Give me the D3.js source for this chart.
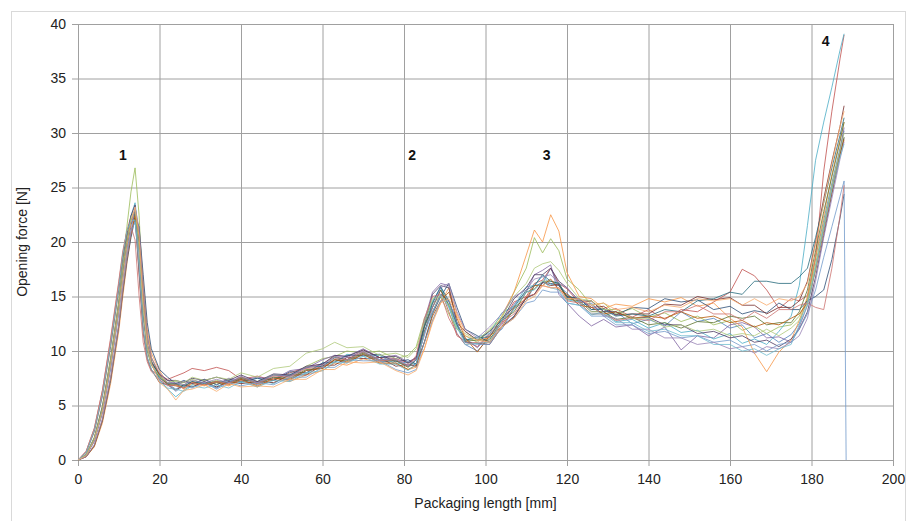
<!DOCTYPE html>
<html>
<head>
<meta charset="utf-8">
<script src="https://cdn.jsdelivr.net/npm/d3@7"></script>
<style>
  body { margin: 0; background: #fff; }
  text { font-family: "Liberation Sans", Arial, sans-serif; }
</style>
</head>
<body>
<svg id="chart" width="908" height="521"></svg>
<script>
// packaging length grid [mm]
var xs = [0, 2, 4, 6, 8, 10,
  11, 12, 13, 14, 15, 16, 17, 18,
  20, 22, 24, 26, 28,
  31, 34, 37, 40, 44, 48, 52, 56, 60,
  63, 66, 70, 74, 78,
  81, 83, 85, 87, 89, 91, 93, 95,
  98, 101, 104, 107, 110, 112, 114, 116, 118, 120,
  123, 126, 129, 132, 136, 140, 144, 148, 152, 156, 160,
  163, 166, 169, 172, 175,
  177, 179, 181, 183, 185, 187, 188, 188.5];

// opening force [N], one array per sample
var s1 = [0,0.4,1.8,4.6,8.8,14.0, 17.0,19.8,21.6,22.4,19.0,13.4,10.2,8.8, 7.5,7.0,6.5,6.9,6.7,
  7.1,6.6,7.2,7.4,6.9,7.6,7.3,8.2,8.5, 9.2,8.9,9.7,9.0,9.1, 8.6,8.8,11.6,14.4,15.9,14.2,11.6,10.6,
  10.0,11.2,12.0,13.9,14.6,16.0,16.2,17.6,16.0,15.3, 14.2,14.4,13.2,13.6,12.5,12.9,12.3,13.6,12.7,13.0,12.1,
  12.4,11.2,11.6,10.8,11.5, 12.5,14.8,18.6,22.0,25.4,28.6,30.2,null];
var s2 = [0,0.8,2.9,6.4,11.0,16.2, 19.0,21.0,22.4,22.8,17.0,11.6,9.2,8.2, 7.8,7.4,7.7,8.0,8.4,
  8.2,8.5,8.2,7.4,7.7,7.3,8.0,8.5,8.8, 9.5,9.2,10.1,9.4,9.3, 8.9,9.3,12.4,14.0,15.6,13.6,11.4,10.9,
  10.4,11.6,12.6,14.5,15.0,16.2,16.5,17.6,16.2,15.7, 14.4,14.6,13.6,13.9,13.1,13.8,12.9,13.8,13.6,14.5,15.4,
  17.5,16.9,15.6,13.9,14.8, 14.6,15.1,18.5,26.5,32.0,36.8,39.0,null];
var s3 = [0,0.5,2.1,5.0,9.4,14.6, 18.2,21.4,24.6,26.8,22.4,14.6,10.6,9.0, 7.9,7.1,7.2,6.9,7.4,
  7.0,7.3,7.1,7.6,7.2,7.8,7.7,8.6,9.3, 9.5,10.0,9.8,10.0,9.3, 9.6,10.4,13.0,14.4,15.0,13.4,12.0,11.4,
  10.8,11.9,13.0,15.4,17.6,20.4,19.0,20.3,19.2,16.6, 15.6,14.2,14.4,13.4,13.9,13.1,13.5,12.7,13.2,12.4,12.8,
  11.9,12.3,11.6,12.2,12.4, 13.2,14.8,18.0,21.6,25.0,28.2,29.6,null];
var s4 = [0,0.4,1.7,4.3,8.4,13.6, 16.8,19.6,21.8,23.0,20.0,14.0,10.6,9.0, 7.8,7.3,6.9,7.2,7.0,
  7.4,6.9,7.5,7.3,7.6,7.4,8.2,8.4,9.2, 9.6,9.5,10.2,9.4,9.6, 9.0,9.4,12.8,15.4,16.2,16.0,12.4,11.2,
  10.3,11.5,12.4,14.3,15.4,17.0,17.4,17.9,15.2,14.4, 13.2,12.3,12.9,12.2,12.4,11.4,12.2,10.1,11.4,11.2,12.4,
  12.6,12.2,11.2,11.3,10.8, 12.2,14.2,17.6,21.4,25.0,28.4,30.5,null];
var s5 = [0,0.5,2.0,4.8,9.0,14.2, 17.4,20.2,22.4,23.6,20.6,14.4,10.6,8.9, 7.4,6.5,5.8,6.4,6.9,
  7.2,6.7,7.3,7.1,7.5,7.0,7.9,7.9,8.9, 8.9,9.7,9.5,9.6,8.8, 9.0,8.8,12.6,14.6,15.8,14.0,12.2,11.0,
  11.3,11.6,13.5,14.1,15.9,16.0,16.9,16.1,16.3,14.7, 14.5,13.3,13.6,12.7,12.9,12.1,12.6,11.7,11.9,11.1,11.6,
  10.7,11.1,10.6,11.8,13.2, 16.0,21.5,27.5,31.0,34.2,37.6,39.1,null];
var s6 = [0,0.3,1.2,3.4,7.0,11.8, 15.0,18.0,20.6,22.8,21.2,16.4,12.0,9.8, 8.2,7.0,7.0,6.5,7.0,
  6.8,7.1,6.8,7.3,6.7,7.4,7.2,7.8,8.2, 8.9,8.7,9.3,8.9,8.8, 8.3,8.5,10.2,12.8,14.4,15.8,13.4,11.8,
  11.0,11.2,13.2,15.4,18.8,21.1,20.0,22.5,21.0,17.2, 15.0,14.8,13.9,14.3,14.1,14.8,14.5,14.9,14.1,14.4,13.0,
  12.2,9.8,8.1,9.9,11.0, 12.8,15.0,18.6,22.4,26.2,29.4,31.0,null];
var s7 = [0,0.3,1.3,3.6,7.3,12.2, 15.4,18.2,20.4,22.2,21.4,17.0,12.6,10.2, 8.3,7.6,7.0,7.3,7.0,
  7.4,6.9,7.4,7.2,7.5,7.3,8.1,8.0,8.9, 9.0,9.6,9.6,9.7,9.0, 9.2,8.8,10.8,13.4,15.0,16.2,14.0,12.0,
  11.4,10.8,12.2,13.2,14.9,15.2,16.3,16.2,16.0,14.9, 14.8,13.8,13.9,13.3,14.0,13.9,14.8,14.5,14.7,13.8,14.1,
  13.4,13.7,13.5,14.4,13.8, 13.8,14.6,15.0,15.6,18.4,22.2,24.4,null];
var s8 = [0,0.7,2.6,5.9,10.4,15.6, 18.6,20.8,22.0,22.2,17.2,12.0,9.4,8.3, 7.1,6.9,6.4,6.9,6.7,
  7.2,6.7,7.2,7.0,7.2,7.1,7.8,7.8,8.7, 8.7,9.4,9.3,9.4,8.6, 8.8,8.6,11.8,13.6,15.2,14.6,12.6,10.8,
  10.7,10.6,12.2,13.1,14.9,15.2,16.3,16.0,16.1,15.0, 14.8,14.0,14.1,13.3,13.4,13.4,14.3,14.2,15.0,14.7,14.9,
  14.2,14.2,13.4,14.0,14.0, 14.6,16.4,20.0,24.0,27.4,30.6,32.5,null];
var s9 = [0,0.4,1.9,4.7,9.0,14.2, 17.2,20.0,22.0,22.8,19.4,13.4,10.0,8.7, 7.6,6.9,6.9,6.7,7.2,
  6.9,7.1,7.0,7.5,7.0,7.6,7.5,8.3,8.4, 9.2,9.1,9.8,9.1,9.1, 8.5,9.2,12.2,14.0,15.6,14.2,12.4,10.9,
  11.0,11.0,12.8,13.6,15.4,15.7,16.4,16.4,16.2,14.8, 14.6,13.6,13.6,12.9,13.1,12.4,12.6,12.1,12.7,12.6,13.2,
  13.0,13.2,12.4,12.6,12.6, 13.6,15.6,19.2,22.8,26.0,29.2,31.0,null];
var s10 = [0,0.5,2.0,4.9,9.2,14.4, 17.6,20.4,22.4,23.4,19.6,13.6,10.2,8.9, 7.9,7.3,7.3,7.1,7.5,
  7.3,7.6,7.3,7.8,7.2,7.9,7.8,8.6,8.8, 9.6,9.5,10.1,9.4,9.5, 8.9,9.4,12.4,15.2,16.0,15.8,12.6,11.8,
  11.0,11.8,12.8,14.8,15.8,17.0,17.0,17.6,16.4,15.8, 14.6,14.6,13.6,13.6,13.0,13.1,12.4,12.4,11.6,11.8,11.2,
  11.4,10.8,11.0,10.4,11.1, 12.0,13.6,16.8,20.6,24.4,28.0,29.6,null];
var s11 = [0,0.4,1.8,4.5,8.6,13.8, 16.8,19.4,21.6,22.6,19.8,14.2,10.6,9.1, 7.7,7.0,7.0,6.8,7.2,
  7.0,7.2,7.1,7.6,7.1,7.8,7.7,8.5,8.6, 9.4,9.2,9.9,9.2,9.2, 8.6,9.2,12.2,14.4,15.9,14.6,12.4,11.0,
  11.2,11.3,13.0,14.0,15.6,16.0,17.0,16.4,16.2,15.0, 14.8,13.8,13.8,13.2,13.4,13.2,13.8,13.6,14.6,14.8,15.4,
  15.2,16.4,16.4,16.2,16.2, 16.8,17.6,20.4,23.6,26.8,29.8,31.4,null];
var s12 = [0,0.3,1.3,3.7,7.5,12.4, 15.6,18.6,20.8,22.4,20.6,15.4,11.4,9.4, 7.8,6.9,6.8,6.6,7.1,
  6.9,7.2,6.9,7.4,6.8,7.5,7.4,8.2,8.4, 9.2,9.0,9.7,8.9,8.9, 8.3,8.7,10.8,13.2,14.6,15.4,13.0,11.2,
  9.9,11.4,12.2,14.0,14.8,16.0,16.0,16.6,15.6,15.2, 14.2,14.0,13.4,13.6,13.0,13.2,13.0,13.6,13.0,13.2,12.6,
  12.8,12.2,12.6,12.4,13.0, 13.4,14.4,17.4,21.0,24.6,28.0,29.4,null];
var s13 = [0,0.4,1.8,4.4,8.4,13.4, 16.6,19.2,21.0,21.8,19.0,13.6,10.2,8.8, 7.3,6.9,6.3,6.8,6.6,
  7.1,6.5,7.1,6.8,7.1,6.9,7.6,7.6,8.5, 8.5,9.2,9.1,9.1,8.3, 8.0,8.3,10.8,12.8,14.6,14.6,12.6,10.8,
  10.6,10.6,12.2,13.0,14.4,14.6,15.6,15.4,15.4,14.4, 14.2,13.2,13.2,12.4,12.4,11.6,11.8,11.2,11.4,10.8,11.0,
  10.4,10.6,10.0,10.6,10.8, 12.0,13.4,15.6,18.6,21.4,24.2,25.6,0];
var s14 = [0,0.8,2.9,6.4,11.2,16.4, 19.2,21.0,21.4,20.2,15.0,10.8,9.0,8.1, 7.4,6.8,6.9,6.6,7.1,
  6.9,7.2,7.0,7.6,7.0,7.7,7.6,8.4,8.5, 9.3,9.2,9.9,9.1,9.2, 8.6,9.6,13.0,15.0,15.2,13.0,11.6,10.6,
  10.8,10.8,12.6,13.4,15.0,15.2,16.0,15.8,15.8,14.6, 14.4,13.4,13.4,12.8,13.0,12.8,13.6,13.6,14.2,13.4,13.4,
  12.8,13.6,13.0,13.8,13.8, 14.2,14.4,14.0,13.8,17.6,22.4,25.2,null];
var s15 = [0,0.5,2.0,4.8,9.2,14.4, 17.6,20.2,22.2,23.0,19.4,13.8,10.2,8.7, 7.7,7.1,7.3,7.1,7.6,
  7.3,7.6,7.4,8.0,7.6,8.4,8.6,9.8,10.2, 10.8,10.3,10.4,9.6,9.8, 9.4,10.2,12.6,14.8,15.0,14.2,12.0,11.6,
  11.0,12.0,13.2,15.0,16.2,17.6,18.0,18.2,17.4,16.2, 14.8,14.6,13.8,13.8,13.0,13.0,12.2,12.4,11.8,12.0,11.4,
  11.6,11.4,12.0,11.4,12.1, 12.8,14.4,17.8,21.6,25.2,28.4,30.0,null];
var s16 = [0,0.3,1.4,3.8,7.6,12.4, 15.8,18.6,21.0,23.2,21.2,15.8,11.4,9.4, 8.0,7.1,7.1,6.9,7.3,
  7.1,7.4,7.1,7.7,7.1,7.8,7.7,8.5,8.7, 9.5,9.4,10.0,9.2,9.3, 8.7,9.2,11.4,14.0,15.8,16.2,13.6,12.0,
  11.2,12.2,13.4,15.0,15.6,16.6,16.8,17.0,16.2,15.8, 14.6,14.2,13.2,13.0,12.0,12.0,11.2,11.2,10.6,10.8,10.2,
  10.4,9.8,10.4,10.2,10.8, 11.4,13.0,16.4,20.4,24.0,27.6,29.2,null];
var s17 = [0,0.7,2.7,6.0,10.6,15.8, 18.8,21.0,22.0,22.0,17.6,12.0,9.4,8.3, 7.2,6.6,6.5,6.3,6.8,
  6.6,6.9,6.6,7.2,6.7,7.3,7.2,8.0,8.2, 9.0,8.9,9.5,8.8,8.8, 8.2,8.8,11.6,13.6,15.2,14.0,12.2,10.6,
  10.7,10.8,12.8,13.8,15.4,15.6,16.4,15.8,15.6,14.4, 14.2,13.4,13.4,12.6,12.6,11.8,12.0,11.4,11.4,10.6,10.6,
  10.0,10.2,9.6,10.2,10.6, 12.4,14.2,17.6,21.2,24.8,27.8,29.0,null];
var s18 = [0,0.4,1.8,4.5,8.7,13.8, 16.8,19.6,21.8,23.2,20.4,14.4,10.6,8.9, 7.1,6.5,5.5,6.4,6.5,
  6.9,6.3,7.0,6.7,6.8,6.7,7.4,7.4,8.3, 8.3,9.0,8.9,9.0,8.2, 7.8,8.2,10.2,12.6,14.4,14.8,13.2,11.4,
  11.0,10.8,12.2,13.0,14.6,15.0,16.0,15.8,15.8,14.8, 14.8,14.2,14.4,13.8,14.0,13.6,14.2,14.0,14.8,14.6,14.8,
  14.2,14.8,14.2,14.8,14.6, 15.0,16.2,19.8,23.6,27.2,30.6,32.0,null];

var series = [s1, s2, s3, s4, s5, s6, s7, s8, s9, s10, s11, s12, s13, s14, s15, s16, s17, s18];
var colors = ["#4F81BD", "#C0504D", "#9BBB59", "#8064A2", "#4BACC6", "#F79646",
  "#2C4D75", "#772C2A", "#5F7530", "#4D3B62", "#276A7C", "#B65708",
  "#729ACA", "#CD7371", "#AFC97A", "#9983B5", "#6FBDD1", "#F9AB6B"];

var xTicks = [0, 20, 40, 60, 80, 100, 120, 140, 160, 180, 200];
var yTicks = [0, 5, 10, 15, 20, 25, 30, 35, 40];

var peakLabels = ["1", "2", "3", "4"];
var peakX = [11, 82, 115, 183.5];
var peakY = [28, 28, 28, 38.4];

var svg = d3.select("#chart");
var margin = {top: 24, right: 15, bottom: 61, left: 78};
var width = +svg.attr("width") - margin.left - margin.right;
var height = +svg.attr("height") - margin.top - margin.bottom;

// chart frame
svg.append("rect")
    .attr("x", 11.5).attr("y", 11.5)
    .attr("width", 894).attr("height", 520)
    .attr("fill", "none")
    .attr("stroke", "#d9d9d9");

var g = svg.append("g").attr("transform", "translate(" + margin.left + "," + margin.top + ")");

var x = d3.scaleLinear().domain([0, 200]).range([0, width]);
var y = d3.scaleLinear().domain([0, 40]).range([height, 0]);

// gridlines and outside ticks drawn by the same axis
g.append("g")
    .attr("class", "axis axis--y")
    .attr("transform", "translate(" + width + ",0)")
    .call(d3.axisLeft(y).tickValues(yTicks).tickSize(width + 6).tickSizeOuter(0).tickPadding(6));

g.append("g")
    .attr("class", "axis axis--x")
    .call(d3.axisBottom(x).tickValues(xTicks).tickSize(height + 6).tickSizeOuter(0).tickPadding(8));

g.selectAll(".axis .domain").remove();
g.selectAll(".axis line").attr("stroke", "#a0a0a0").attr("stroke-width", 1);
g.selectAll(".axis text")
    .attr("fill", "#222")
    .style("font-size", "14px");

var line = d3.line()
    .defined(function(d) { return d[1] != null; })
    .x(function(d) { return x(d[0]); })
    .y(function(d) { return y(d[1]); });

g.selectAll(".run")
    .data(series)
  .enter().append("path")
    .attr("class", "run")
    .attr("fill", "none")
    .attr("stroke", function(d, i) { return colors[i]; })
    .attr("stroke-width", 1)
    .attr("stroke-opacity", 0.8)
    .attr("stroke-linejoin", "round")
    .attr("d", function(d) { return line(xs.map(function(v, i) { return [v, d[i]]; })); });

g.selectAll(".peak")
    .data(peakLabels)
  .enter().append("text")
    .attr("class", "peak")
    .attr("x", function(d, i) { return x(peakX[i]); })
    .attr("y", function(d, i) { return y(peakY[i]); })
    .attr("dy", "0.35em")
    .attr("text-anchor", "middle")
    .style("font-size", "14px")
    .style("font-weight", "bold")
    .attr("fill", "#111")
    .text(function(d) { return d; });

svg.append("text")
    .attr("transform", "translate(22," + (margin.top + height / 2) + ") rotate(-90)")
    .attr("text-anchor", "middle")
    .attr("dy", "0.35em")
    .style("font-size", "14px")
    .attr("fill", "#222")
    .text("Opening force [N]");

svg.append("text")
    .attr("x", margin.left + width / 2)
    .attr("y", 508)
    .attr("text-anchor", "middle")
    .style("font-size", "14px")
    .attr("fill", "#222")
    .text("Packaging length [mm]");
</script>
</body>
</html>
